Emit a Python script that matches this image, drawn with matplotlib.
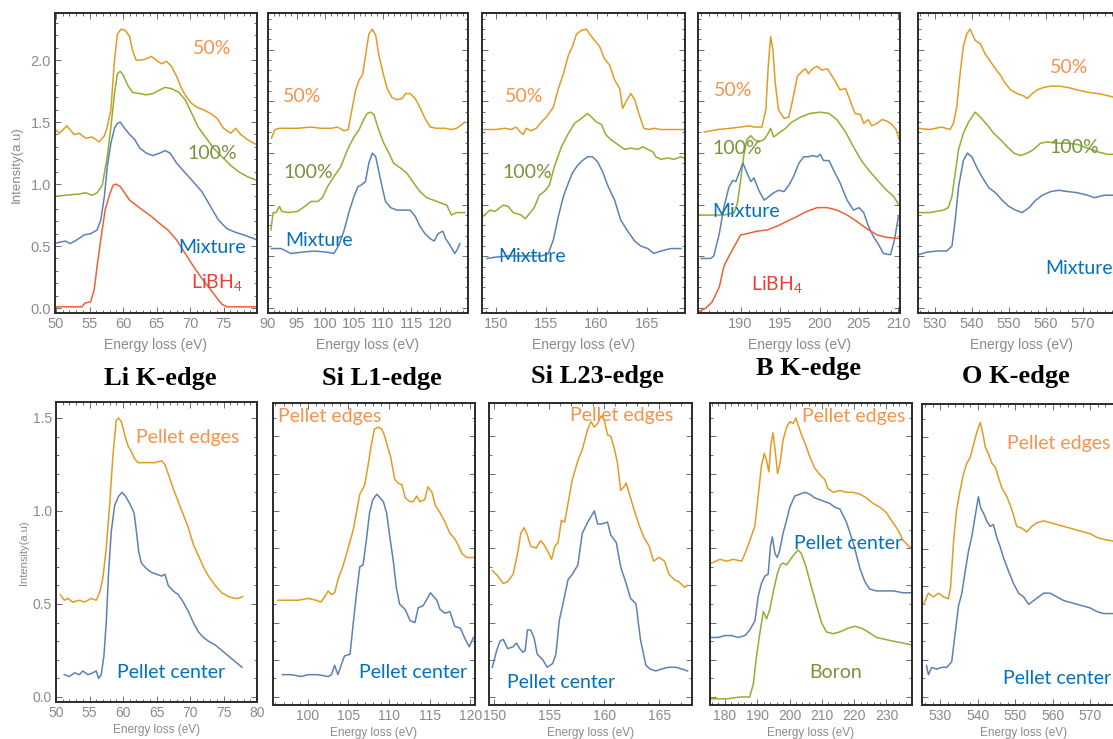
import numpy as np
import matplotlib.pyplot as plt
from matplotlib.ticker import MultipleLocator

plt.rcParams["font.family"] = ["Liberation Sans", "DejaVu Sans"]

# Mathematica default line colours
C_BLUE, C_ORANGE, C_GREEN, C_RED = "#5E81B5", "#E19C24", "#8FB032", "#EB6235"
# text colours of the annotations
T_ORANGE, T_GREEN, T_BLUE, T_RED = "#F7924A", "#77933C", "#0070C0", "#EE3E32"
GRAY = "#8a8a8a"

# ---------------- top row: 50% / 100% / Mixture / LiBH4 ----------------
li_e_50 = [49.89, 50.54, 51.62, 52.69, 53.45, 54.42, 55.39, 56.46, 57.22, 57.65, 58.19, 58.73, 59.16,
           59.70, 60.34, 60.99, 61.42, 61.96, 62.71, 63.47, 64.22, 64.98, 65.73, 66.48, 67.24, 67.99,
           68.75, 69.50, 70.26, 71.01, 71.98, 73.06, 74.03, 75.00, 76.08, 76.83, 77.58, 78.55, 79.52, 79.95]
li_i_50 = [1.44, 1.41, 1.47, 1.40, 1.41, 1.37, 1.38, 1.34, 1.39, 1.46, 1.60, 2.00, 2.21, 2.25, 2.24, 2.19,
           2.08, 2.00, 2.00, 2.01, 2.03, 2.00, 1.97, 1.99, 1.95, 1.87, 1.77, 1.70, 1.65, 1.62, 1.60, 1.57,
           1.53, 1.45, 1.41, 1.45, 1.40, 1.36, 1.33, 1.32]
li_e_100 = [49.85, 51.40, 53.45, 54.42, 55.39, 56.14, 56.90, 57.65, 58.19, 58.73, 59.16, 59.59, 60.02,
            60.67, 61.42, 62.50, 63.47, 64.44, 65.51, 66.27, 67.24, 68.32, 69.29, 70.26, 71.22, 72.30,
            73.49, 74.78, 76.07, 77.26, 78.55, 80.0]
li_i_100 = [0.90, 0.91, 0.92, 0.93, 0.91, 0.93, 0.99, 1.22, 1.46, 1.73, 1.89, 1.91, 1.88, 1.80, 1.74,
            1.73, 1.72, 1.73, 1.76, 1.78, 1.77, 1.74, 1.68, 1.57, 1.46, 1.38, 1.29, 1.22, 1.15, 1.10,
            1.06, 1.03]
li_e_mix = [49.85, 50.43, 51.40, 52.15, 53.12, 54.20, 55.17, 56.14, 56.68, 57.22, 57.65, 58.19, 58.73,
            59.16, 59.59, 60.24, 60.99, 61.74, 62.50, 63.47, 64.44, 65.51, 66.27, 67.02, 67.99, 69.29,
            70.47, 71.76, 73.06, 74.24, 75.53, 76.83, 78.01, 80.0]
li_i_mix = [0.52, 0.53, 0.54, 0.52, 0.55, 0.59, 0.60, 0.63, 0.71, 0.90, 1.14, 1.33, 1.45, 1.49, 1.50,
            1.45, 1.40, 1.36, 1.29, 1.25, 1.23, 1.25, 1.27, 1.25, 1.17, 1.09, 1.02, 0.94, 0.82, 0.71,
            0.64, 0.61, 0.59, 0.55]
li_e_libh4 = [50.11, 53.88, 54.31, 55.17, 55.71, 56.14, 56.68, 57.33, 57.97, 58.51, 58.94, 59.59, 60.24,
              60.99, 61.96, 62.93, 64.22, 65.51, 66.70, 67.99, 69.29, 70.47, 71.76, 73.06, 74.03, 74.78,
              75.53, 80.0]
li_i_libh4 = [0.01, 0.01, 0.04, 0.05, 0.15, 0.34, 0.55, 0.79, 0.91, 0.99, 1.00, 0.98, 0.93, 0.87, 0.83,
              0.79, 0.74, 0.68, 0.63, 0.55, 0.44, 0.34, 0.24, 0.15, 0.08, 0.03, 0.01, 0.01]

si1_e_50 = [90.6, 91.2, 92.0, 93.5, 95.2, 97.5, 99.2, 101.0, 102.1, 103.3, 104.0, 104.4, 105.3, 105.9,
            106.5, 107.0, 107.6, 108.2, 108.8, 109.3, 110.1, 110.8, 111.6, 112.5, 113.4, 114.0, 114.8,
            115.7, 116.5, 117.4, 118.3, 119.4, 120.9, 122.0, 122.9, 123.8, 124.3]
si1_i_50 = [1.37, 1.44, 1.45, 1.45, 1.45, 1.46, 1.45, 1.45, 1.46, 1.43, 1.44, 1.54, 1.76, 1.84, 1.88,
            2.03, 2.21, 2.25, 2.20, 2.05, 1.89, 1.77, 1.70, 1.68, 1.69, 1.73, 1.73, 1.69, 1.62, 1.53,
            1.46, 1.45, 1.45, 1.44, 1.45, 1.48, 1.50]
si1_e_100 = [90.5, 90.9, 91.4, 92.0, 92.4, 93.5, 95.2, 96.4, 97.5, 98.7, 99.5, 100.4, 101.5, 102.7,
             103.9, 105.0, 105.9, 106.7, 107.3, 107.9, 108.5, 109.3, 110.2, 111.1, 111.9, 113.1, 114.2,
             115.4, 116.5, 117.7, 118.9, 120.0, 121.2, 122.0, 122.9, 124.3]
si1_i_100 = [0.63, 0.77, 0.77, 0.82, 0.78, 0.77, 0.78, 0.82, 0.86, 0.86, 0.89, 0.98, 1.06, 1.14, 1.28,
             1.38, 1.44, 1.52, 1.57, 1.58, 1.56, 1.44, 1.33, 1.25, 1.17, 1.13, 1.09, 1.01, 0.94, 0.89,
             0.87, 0.85, 0.83, 0.75, 0.77, 0.77]
si1_e_mix = [90.6, 92.3, 94.0, 95.8, 98.1, 100.4, 101.5, 102.4, 103.3, 104.1, 105.0, 105.7, 106.2,
             107.0, 107.6, 108.2, 108.8, 109.3, 109.9, 110.5, 111.4, 112.5, 113.7, 114.8, 115.7, 116.5,
             117.4, 118.3, 119.0, 119.7, 120.5, 121.0, 121.7, 122.6, 123.0, 123.5]
si1_i_mix = [0.48, 0.48, 0.44, 0.45, 0.46, 0.45, 0.44, 0.51, 0.63, 0.77, 0.90, 0.98, 0.99, 1.02, 1.17,
             1.25, 1.22, 1.11, 0.98, 0.86, 0.81, 0.79, 0.79, 0.79, 0.74, 0.66, 0.60, 0.56, 0.54, 0.60,
             0.62, 0.56, 0.51, 0.44, 0.47, 0.52]

si23_e_50 = [148.7, 149.9, 150.9, 151.5, 152.0, 152.4, 152.7, 153.0, 153.5, 154.0, 154.5, 155.0, 155.7,
             156.2, 156.7, 157.2, 157.6, 158.0, 158.5, 159.0, 159.3, 159.8, 160.3, 160.8, 161.3, 161.8,
             162.3, 162.6, 162.9, 163.4, 163.8, 164.2, 164.7, 165.2, 165.7, 166.4, 167.7, 168.7]
si23_i_50 = [1.44, 1.44, 1.45, 1.44, 1.46, 1.42, 1.40, 1.45, 1.43, 1.45, 1.50, 1.54, 1.62, 1.77, 1.89,
             2.04, 2.11, 2.21, 2.24, 2.25, 2.21, 2.16, 2.11, 2.01, 1.96, 1.84, 1.77, 1.61, 1.66, 1.73,
             1.68, 1.57, 1.45, 1.44, 1.45, 1.44, 1.44, 1.44]
si23_e_100 = [148.7, 149.4, 149.9, 150.7, 151.2, 151.7, 152.5, 152.9, 153.4, 153.8, 154.3, 154.8, 155.3,
              155.8, 156.5, 157.2, 157.8, 158.5, 159.1, 159.5, 160.0, 160.5, 160.9, 161.4, 162.1, 162.8,
              163.4, 164.1, 164.6, 165.1, 165.6, 165.9, 166.4, 167.1, 167.7, 168.4, 168.7]
si23_i_100 = [0.74, 0.79, 0.78, 0.83, 0.82, 0.77, 0.75, 0.72, 0.77, 0.81, 0.91, 0.94, 0.99, 1.14, 1.30,
              1.41, 1.49, 1.53, 1.57, 1.54, 1.50, 1.48, 1.40, 1.36, 1.32, 1.28, 1.29, 1.28, 1.30, 1.28,
              1.26, 1.22, 1.20, 1.21, 1.20, 1.22, 1.21]
si23_e_mix = [149.1, 149.9, 151.2, 152.9, 154.5, 155.2, 155.7, 156.2, 156.7, 157.2, 157.6, 158.1, 158.6,
              159.1, 159.6, 160.1, 160.6, 161.1, 161.8, 162.4, 163.1, 163.8, 164.4, 165.1, 165.7, 166.4,
              167.4, 168.4]
si23_i_mix = [0.40, 0.41, 0.42, 0.42, 0.42, 0.44, 0.55, 0.74, 0.90, 1.01, 1.09, 1.15, 1.19, 1.22, 1.22,
              1.18, 1.10, 0.99, 0.87, 0.71, 0.62, 0.54, 0.50, 0.48, 0.44, 0.46, 0.48, 0.48]

b_e_50 = [185.4, 187.1, 188.7, 190.0, 191.1, 191.7, 192.7, 193.2, 193.5, 193.8, 194.1, 194.4, 194.8,
          195.5, 196.1, 196.5, 197.2, 197.8, 198.2, 198.6, 199.1, 199.7, 200.3, 201.0, 201.4, 202.0,
          202.6, 203.3, 203.9, 204.5, 205.2, 205.6, 206.2, 206.6, 207.3, 207.9, 208.5, 209.2, 209.7, 210.1]
b_i_50 = [1.42, 1.44, 1.45, 1.46, 1.47, 1.46, 1.46, 1.60, 1.95, 2.19, 2.08, 1.81, 1.60, 1.53, 1.54, 1.65,
          1.87, 1.91, 1.93, 1.89, 1.93, 1.95, 1.92, 1.93, 1.89, 1.83, 1.76, 1.77, 1.67, 1.57, 1.56, 1.49,
          1.52, 1.47, 1.49, 1.52, 1.51, 1.48, 1.44, 1.36]
b_e_100 = [184.7, 186.2, 187.9, 189.2, 189.6, 190.0, 190.4, 190.8, 191.3, 191.7, 192.3, 193.0, 193.5,
           193.8, 194.2, 194.8, 195.7, 196.5, 197.6, 198.8, 200.1, 201.2, 202.2, 203.3, 204.3, 205.4,
           206.4, 207.5, 208.5, 209.4, 210.2]
b_i_100 = [0.75, 0.75, 0.75, 0.77, 0.85, 1.03, 1.23, 1.36, 1.39, 1.36, 1.34, 1.36, 1.41, 1.45, 1.38,
           1.41, 1.45, 1.50, 1.54, 1.57, 1.58, 1.57, 1.52, 1.42, 1.30, 1.18, 1.10, 1.02, 0.95, 0.90, 0.82]
b_e_mix = [185.0, 186.2, 186.6, 187.3, 187.9, 188.5, 189.0, 189.4, 189.8, 190.3, 190.8, 191.3, 191.7,
           192.3, 193.0, 193.6, 194.2, 194.8, 195.5, 196.1, 196.7, 197.4, 198.0, 198.6, 199.1, 199.7,
           200.1, 200.5, 201.2, 201.8, 202.6, 203.5, 204.3, 205.0, 205.6, 206.2, 206.8, 207.5, 208.1,
           209.0, 209.5, 210.0]
b_i_mix = [0.40, 0.40, 0.42, 0.60, 0.82, 0.97, 1.03, 1.02, 1.09, 1.17, 1.09, 1.02, 1.05, 0.95, 0.87, 0.90,
           0.93, 0.95, 0.94, 0.99, 1.06, 1.17, 1.22, 1.22, 1.23, 1.22, 1.24, 1.19, 1.19, 1.11, 1.01, 0.87,
           0.79, 0.81, 0.77, 0.66, 0.58, 0.51, 0.44, 0.43, 0.55, 0.74]
b_e_libh4 = [184.7, 185.6, 186.4, 187.3, 187.9, 188.7, 189.4, 190.0, 190.8, 192.1, 193.4, 194.6, 195.9,
             197.2, 198.4, 199.7, 201.0, 202.2, 203.5, 204.7, 206.0, 207.3, 208.5, 210.2]
b_i_libh4 = [-0.03, 0.00, 0.05, 0.17, 0.34, 0.44, 0.52, 0.59, 0.60, 0.62, 0.63, 0.66, 0.70, 0.74, 0.78,
             0.81, 0.81, 0.79, 0.75, 0.70, 0.64, 0.59, 0.57, 0.56]

o_e_50 = [525.5, 528.6, 531.8, 534.1, 535.0, 535.9, 536.8, 537.7, 538.6, 539.5, 540.9, 542.3, 543.6,
          545.0, 546.4, 547.7, 549.1, 550.5, 552.3, 554.1, 555.0, 556.4, 557.7, 559.5, 561.4, 563.6,
          565.9, 568.6, 571.4, 574.1, 575.9, 578.6]
o_i_50 = [1.45, 1.44, 1.46, 1.44, 1.49, 1.62, 1.89, 2.11, 2.21, 2.25, 2.16, 2.13, 2.05, 1.99, 1.93, 1.88,
          1.81, 1.76, 1.73, 1.71, 1.69, 1.73, 1.76, 1.78, 1.79, 1.79, 1.78, 1.76, 1.74, 1.73, 1.72, 1.70]
o_e_100 = [525.5, 528.6, 532.3, 533.6, 534.6, 535.5, 536.4, 537.7, 539.1, 540.9, 542.3, 544.1, 545.9,
           547.7, 549.6, 551.4, 553.2, 555.0, 556.8, 558.6, 560.5, 563.2, 565.9, 568.6, 571.4, 574.1,
           576.8, 578.6]
o_i_100 = [0.77, 0.77, 0.79, 0.81, 0.90, 1.09, 1.28, 1.41, 1.50, 1.58, 1.54, 1.48, 1.41, 1.36, 1.30, 1.25,
           1.23, 1.25, 1.28, 1.33, 1.34, 1.33, 1.33, 1.32, 1.29, 1.26, 1.24, 1.24]
o_e_mix = [525.5, 527.7, 530.5, 533.2, 534.6, 535.5, 536.4, 537.7, 538.8, 540.0, 541.4, 542.7, 544.6,
           546.4, 548.2, 550.0, 551.8, 553.6, 555.5, 557.3, 559.1, 561.4, 563.6, 565.9, 568.6, 571.4,
           573.2, 575.9, 578.6]
o_i_mix = [0.43, 0.45, 0.46, 0.46, 0.50, 0.71, 0.98, 1.19, 1.25, 1.22, 1.13, 1.06, 0.97, 0.93, 0.87, 0.82,
           0.79, 0.77, 0.81, 0.87, 0.91, 0.94, 0.95, 0.94, 0.93, 0.91, 0.89, 0.91, 0.91]

# ---------------- bottom row: pellet edges / pellet center / boron ----------------
lip_e_edge = [50.65, 51.25, 51.75, 52.5, 53.5, 54.25, 55.25, 56.0, 56.5, 57.0, 57.5, 58.0, 58.5, 59.0,
              59.35, 59.75, 60.25, 60.75, 61.25, 61.75, 62.25, 62.75, 63.75, 64.75, 65.75, 66.25, 66.75,
              67.5, 68.25, 69.0, 69.75, 70.5, 71.25, 72.0, 72.75, 73.75, 74.75, 75.75, 76.75, 77.25, 77.85]
lip_i_edge = [0.55, 0.52, 0.53, 0.51, 0.52, 0.51, 0.53, 0.52, 0.56, 0.64, 0.80, 1.03, 1.30, 1.49, 1.50,
              1.48, 1.41, 1.35, 1.32, 1.28, 1.26, 1.26, 1.26, 1.26, 1.27, 1.25, 1.20, 1.12, 1.05, 0.98,
              0.91, 0.82, 0.76, 0.70, 0.65, 0.60, 0.56, 0.54, 0.53, 0.53, 0.54]
lip_e_center = [51.25, 52.0, 52.75, 53.5, 54.0, 54.75, 55.5, 56.0, 56.35, 56.75, 57.15, 57.5, 57.85,
                58.25, 58.75, 59.35, 59.85, 60.35, 61.0, 61.65, 62.0, 62.35, 62.75, 63.5, 64.25, 65.0,
                65.75, 66.25, 66.75, 67.5, 68.25, 69.0, 69.75, 70.5, 71.25, 72.0, 72.75, 73.75, 74.75,
                75.75, 76.75, 77.75]
lip_i_center = [0.12, 0.11, 0.13, 0.12, 0.14, 0.12, 0.13, 0.14, 0.10, 0.12, 0.22, 0.40, 0.67, 0.89,
                1.03, 1.08, 1.10, 1.08, 1.04, 0.99, 0.89, 0.78, 0.72, 0.69, 0.67, 0.66, 0.65, 0.66, 0.60,
                0.57, 0.55, 0.51, 0.46, 0.40, 0.35, 0.32, 0.30, 0.28, 0.25, 0.22, 0.19, 0.16]

si1p_e_edge = [96.3, 97.5, 98.8, 100.0, 101.0, 101.6, 102.1, 102.5, 102.9, 103.3, 103.7, 104.3, 104.9,
               105.6, 106.4, 107.0, 107.4, 107.8, 108.2, 108.7, 109.1, 109.4, 109.8, 110.2, 110.7, 111.1,
               111.6, 112.0, 112.6, 113.0, 113.4, 113.8, 114.4, 114.8, 115.3, 115.7, 116.3, 116.9, 117.5,
               118.1, 118.6, 119.0, 119.6, 120.0, 120.4]
si1p_i_edge = [0.52, 0.52, 0.52, 0.53, 0.52, 0.51, 0.54, 0.57, 0.55, 0.56, 0.63, 0.70, 0.79, 0.90, 1.09,
               1.14, 1.24, 1.35, 1.44, 1.45, 1.44, 1.41, 1.35, 1.29, 1.17, 1.15, 1.14, 1.07, 1.05, 1.05,
               1.08, 1.05, 1.06, 1.13, 1.10, 1.03, 0.99, 0.94, 0.88, 0.85, 0.81, 0.77, 0.75, 0.75, 0.75]
si1p_e_center = [96.9, 97.9, 99.2, 100.0, 101.2, 102.5, 102.9, 103.3, 103.7, 104.1, 104.5, 105.2, 105.6,
                 106.0, 106.4, 106.8, 107.2, 107.6, 108.0, 108.5, 108.9, 109.3, 109.7, 110.1, 110.5, 110.9,
                 111.3, 112.0, 112.6, 113.2, 113.6, 114.2, 114.6, 115.1, 115.5, 115.9, 116.3, 116.9, 117.5,
                 118.1, 118.8, 119.4, 119.9, 120.4]
si1p_i_center = [0.12, 0.12, 0.11, 0.12, 0.12, 0.11, 0.12, 0.17, 0.12, 0.17, 0.22, 0.23, 0.40, 0.56, 0.70,
                 0.71, 0.84, 0.99, 1.06, 1.09, 1.07, 1.05, 0.99, 0.86, 0.74, 0.59, 0.50, 0.47, 0.41, 0.40,
                 0.48, 0.49, 0.52, 0.56, 0.54, 0.52, 0.47, 0.45, 0.46, 0.38, 0.37, 0.31, 0.27, 0.32]

si23p_e_edge = [149.8, 150.3, 150.8, 151.2, 151.7, 152.1, 152.4, 152.7, 153.0, 153.3, 153.8, 154.2, 154.5,
                154.8, 155.2, 155.5, 155.8, 156.1, 156.4, 156.7, 157.1, 157.6, 158.0, 158.5, 158.8, 159.1,
                159.4, 159.7, 160.0, 160.3, 160.6, 160.9, 161.2, 161.5, 161.8, 162.0, 162.3, 162.7, 163.2,
                163.6, 164.1, 164.5, 165.0, 165.5, 165.9, 166.4, 166.8, 167.3, 167.6]
si23p_i_edge = [0.68, 0.65, 0.61, 0.62, 0.66, 0.77, 0.88, 0.91, 0.87, 0.81, 0.80, 0.84, 0.82, 0.79, 0.74,
                0.81, 0.83, 0.95, 0.94, 1.04, 1.17, 1.27, 1.33, 1.44, 1.48, 1.45, 1.47, 1.51, 1.49, 1.41,
                1.40, 1.34, 1.26, 1.11, 1.13, 1.15, 1.09, 1.01, 0.92, 0.86, 0.81, 0.73, 0.75, 0.73, 0.66,
                0.63, 0.62, 0.59, 0.60]
si23p_e_center = [149.8, 150.2, 150.5, 150.8, 151.2, 151.7, 152.0, 152.3, 152.6, 152.8, 153.0, 153.3,
                  153.6, 153.9, 154.4, 154.8, 155.3, 155.6, 155.9, 156.2, 156.7, 157.1, 157.6, 158.0,
                  158.5, 158.8, 159.1, 159.4, 159.8, 160.3, 160.6, 161.1, 161.5, 162.0, 162.4, 162.9,
                  163.3, 163.8, 164.2, 164.7, 165.2, 165.9, 166.5, 167.1, 167.6]
si23p_i_center = [0.16, 0.25, 0.30, 0.31, 0.26, 0.27, 0.29, 0.26, 0.24, 0.25, 0.36, 0.36, 0.32, 0.23,
                  0.20, 0.16, 0.18, 0.23, 0.41, 0.49, 0.63, 0.66, 0.71, 0.88, 0.94, 0.97, 1.00, 0.93, 0.93,
                  0.94, 0.87, 0.83, 0.70, 0.61, 0.53, 0.50, 0.31, 0.17, 0.15, 0.14, 0.15, 0.16, 0.16, 0.15,
                  0.14]

bp_e_edge = [175.9, 178.5, 180.5, 182.6, 185.2, 186.2, 187.7, 189.3, 190.3, 191.3, 192.2, 192.9, 193.6,
             194.2, 194.9, 195.6, 196.3, 197.0, 198.0, 199.1, 200.1, 201.1, 202.0, 202.7, 203.7, 205.1,
             206.3, 207.8, 209.2, 210.2, 210.9, 211.9, 213.5, 215.6, 217.6, 219.7, 221.8, 223.8, 225.9,
             228.0, 230.0, 231.5, 233.1, 234.1, 235.2, 236.4, 237.7]
bp_i_edge = [0.72, 0.74, 0.73, 0.74, 0.73, 0.77, 0.84, 0.92, 1.08, 1.24, 1.31, 1.27, 1.21, 1.35, 1.42,
             1.32, 1.20, 1.25, 1.38, 1.45, 1.48, 1.47, 1.50, 1.46, 1.41, 1.35, 1.29, 1.23, 1.20, 1.18,
             1.17, 1.12, 1.10, 1.11, 1.10, 1.10, 1.09, 1.07, 1.04, 1.02, 0.99, 0.95, 0.91, 0.88, 0.84,
             0.82, 0.80]
bp_e_center = [175.9, 177.9, 180.0, 182.1, 184.1, 186.2, 187.7, 189.3, 190.3, 191.3, 192.4, 193.4, 194.1,
               194.7, 195.5, 196.2, 197.0, 198.0, 199.1, 200.1, 201.6, 203.2, 204.7, 206.3, 207.8, 209.4,
               210.9, 212.5, 214.0, 215.6, 217.6, 219.7, 221.8, 223.3, 224.8, 226.9, 229.5, 232.1, 235.2,
               237.7]
bp_i_center = [0.32, 0.32, 0.33, 0.33, 0.32, 0.33, 0.36, 0.41, 0.54, 0.61, 0.65, 0.66, 0.81, 0.86, 0.77,
               0.75, 0.79, 0.88, 0.95, 1.02, 1.08, 1.09, 1.10, 1.09, 1.07, 1.06, 1.05, 1.04, 1.02, 1.01,
               0.94, 0.83, 0.69, 0.62, 0.58, 0.57, 0.57, 0.57, 0.56, 0.56]
bp_e_boron = [175.9, 180.5, 184.6, 187.7, 188.8, 189.8, 190.8, 191.9, 192.9, 193.9, 194.9, 196.2, 197.2,
              198.0, 199.1, 200.3, 201.6, 202.7, 203.7, 205.1, 206.8, 208.4, 209.9, 211.4, 213.5, 215.6,
              218.1, 220.2, 222.3, 224.3, 226.9, 229.5, 232.1, 235.2, 237.7]
bp_i_boron = [-0.01, -0.01, 0.00, 0.00, 0.07, 0.22, 0.34, 0.46, 0.42, 0.47, 0.56, 0.66, 0.71, 0.72, 0.71,
              0.74, 0.77, 0.79, 0.77, 0.70, 0.59, 0.49, 0.40, 0.35, 0.34, 0.35, 0.37, 0.38, 0.37, 0.35,
              0.32, 0.31, 0.30, 0.29, 0.28]

op_e_edge = [525.6, 526.9, 528.2, 529.6, 530.9, 532.2, 532.8, 533.6, 534.4, 535.3, 536.2, 537.1, 538.0,
             538.9, 539.8, 540.7, 541.4, 542.0, 542.9, 543.8, 544.7, 545.6, 546.4, 547.8, 549.1, 550.4,
             551.8, 553.1, 554.4, 555.8, 557.6, 559.3, 561.1, 562.9, 564.7, 566.4, 568.2, 570.0, 571.8,
             573.6, 576.1]
op_i_edge = [0.50, 0.56, 0.54, 0.56, 0.54, 0.53, 0.59, 0.84, 1.01, 1.11, 1.20, 1.26, 1.29, 1.36, 1.43,
             1.48, 1.42, 1.35, 1.31, 1.26, 1.24, 1.18, 1.13, 1.08, 1.01, 0.92, 0.91, 0.89, 0.92, 0.94,
             0.95, 0.94, 0.93, 0.92, 0.91, 0.90, 0.89, 0.88, 0.86, 0.85, 0.84]
op_e_center = [526.4, 526.9, 527.8, 529.1, 530.4, 531.8, 533.1, 534.0, 534.9, 535.8, 536.7, 537.6, 538.4,
               539.3, 540.2, 540.8, 541.6, 542.4, 543.3, 544.2, 545.1, 546.0, 546.9, 548.2, 549.6, 550.9,
               552.2, 553.6, 554.9, 556.2, 557.6, 559.3, 561.1, 562.9, 564.7, 566.4, 568.2, 570.0, 571.8,
               573.6, 576.1]
op_i_center = [0.17, 0.12, 0.16, 0.15, 0.16, 0.16, 0.19, 0.34, 0.49, 0.56, 0.68, 0.79, 0.86, 0.97, 1.08,
               1.02, 0.99, 0.95, 0.92, 0.93, 0.86, 0.81, 0.75, 0.68, 0.61, 0.56, 0.54, 0.50, 0.52, 0.54,
               0.56, 0.56, 0.54, 0.52, 0.51, 0.50, 0.49, 0.48, 0.46, 0.45, 0.45]

edge_titles = ["Li K-edge", "Si L1-edge", "Si L23-edge", "B K-edge", "O K-edge"]

W, H = 1113, 739
fig = plt.figure(figsize=(W / 100, H / 100), dpi=100)
fig.patch.set_facecolor("white")


def make_ax(l, r, t, b, xlim, ylim, xmaj, xmin, ymaj, ymin, ylabels=False, top=True):
    ax = fig.add_axes([l / W, 1 - b / H, (r - l) / W, (b - t) / H])
    ax.set_xlim(*xlim)
    ax.set_ylim(*ylim)
    ax.xaxis.set_major_locator(MultipleLocator(xmaj))
    ax.xaxis.set_minor_locator(MultipleLocator(xmin))
    ax.yaxis.set_major_locator(MultipleLocator(ymaj))
    ax.yaxis.set_minor_locator(MultipleLocator(ymin))
    ax.tick_params(which="both", direction="in", top=True, right=True, colors="#555555",
                   labelcolor=GRAY, labelsize=10.5 if top else 10, pad=3, width=0.6)
    ax.tick_params(which="major", length=4)
    ax.tick_params(which="minor", length=2)
    if ylabels:
        ax.yaxis.set_major_formatter(plt.FormatStrFormatter("%.1f"))
    else:
        ax.tick_params(axis="y", labelleft=False)
    for s in ax.spines.values():
        s.set_color("#2b2b2b")
        s.set_linewidth(1.4)
    ax.set_xlabel("Energy loss (eV)", color=GRAY, fontsize=10 if top else 8.5,
                  labelpad=5 if top else 3)
    return ax


def lab(ax, fx, fy, s, c, ha="center"):
    ax.text(fx, fy, s, transform=ax.transAxes, color=c, fontsize=14, family="Lato",
            ha=ha, va="center", clip_on=False)


LW = 1.1
TOP_Y = (-0.04, 2.38)
BOT_Y = (-0.043, 1.58)

# top row
ax = make_ax(55, 257, 13, 313, (49.85, 80.0), TOP_Y, 5, 1, 0.5, 0.1, ylabels=True)
ax.plot(li_e_50, li_i_50, color=C_ORANGE, lw=LW)
ax.plot(li_e_100, li_i_100, color=C_GREEN, lw=LW)
ax.plot(li_e_mix, li_i_mix, color=C_BLUE, lw=LW)
ax.plot(li_e_libh4, li_i_libh4, color=C_RED, lw=LW)
ax.set_xticks([50, 55, 60, 65, 70, 75])
lab(ax, 0.78, 0.883, "50%", T_ORANGE)
lab(ax, 0.78, 0.533, "100%", T_GREEN)
lab(ax, 0.777, 0.217, "Mixture", T_BLUE)
lab(ax, 0.80, 0.10, r"LiBH$_\mathregular{4}$", T_RED)

ax = make_ax(268, 468, 13, 313, (90.3, 124.9), TOP_Y, 5, 1, 0.417, 0.0834)
ax.plot(si1_e_50, si1_i_50, color=C_ORANGE, lw=LW)
ax.plot(si1_e_100, si1_i_100, color=C_GREEN, lw=LW)
ax.plot(si1_e_mix, si1_i_mix, color=C_BLUE, lw=LW)
ax.set_xticks([90, 95, 100, 105, 110, 115, 120])
lab(ax, 0.17, 0.723, "50%", T_ORANGE)
lab(ax, 0.20, 0.467, "100%", T_GREEN)
lab(ax, 0.255, 0.243, "Mixture", T_BLUE)

ax = make_ax(482, 685, 13, 313, (148.6, 168.8), TOP_Y, 5, 1, 0.417, 0.0834)
ax.plot(si23_e_50, si23_i_50, color=C_ORANGE, lw=LW)
ax.plot(si23_e_100, si23_i_100, color=C_GREEN, lw=LW)
ax.plot(si23_e_mix, si23_i_mix, color=C_BLUE, lw=LW)
lab(ax, 0.207, 0.72, "50%", T_ORANGE)
lab(ax, 0.222, 0.467, "100%", T_GREEN)
lab(ax, 0.246, 0.187, "Mixture", T_BLUE)

ax = make_ax(698, 900, 13, 313, (184.6, 210.2), TOP_Y, 5, 1, 0.417, 0.0834)
ax.plot(b_e_50, b_i_50, color=C_ORANGE, lw=LW)
ax.plot(b_e_100, b_i_100, color=C_GREEN, lw=LW)
ax.plot(b_e_mix, b_i_mix, color=C_BLUE, lw=LW)
ax.plot(b_e_libh4, b_i_libh4, color=C_RED, lw=LW)
ax.set_xticks([190, 195, 200, 205, 210])
lab(ax, 0.173, 0.743, "50%", T_ORANGE)
lab(ax, 0.193, 0.55, "100%", T_GREEN)
lab(ax, 0.238, 0.337, "Mixture", T_BLUE)
lab(ax, 0.391, 0.093, r"LiBH$_\mathregular{4}$", T_RED)

ax = make_ax(918, 1125, 13, 313, (525.4, 581.5), TOP_Y, 10, 2, 0.417, 0.0834)
ax.plot(o_e_50, o_i_50, color=C_ORANGE, lw=LW)
ax.plot(o_e_100, o_i_100, color=C_GREEN, lw=LW)
ax.plot(o_e_mix, o_i_mix, color=C_BLUE, lw=LW)
ax.set_xticks([530, 540, 550, 560, 570])
lab(ax, 0.729, 0.817, "50%", T_ORANGE)
lab(ax, 0.754, 0.553, "100%", T_GREEN)
lab(ax, 0.614, 0.15, "Mixture", T_BLUE, ha="left")

# bottom row
ax = make_ax(56, 257, 402, 702, (50, 80), (-0.027, 1.586), 5, 1, 0.5, 0.1, ylabels=True, top=False)
ax.plot(lip_e_edge, lip_i_edge, color=C_ORANGE, lw=LW)
ax.plot(lip_e_center, lip_i_center, color=C_BLUE, lw=LW)
lab(ax, 0.657, 0.883, "Pellet edges", T_ORANGE)
lab(ax, 0.572, 0.10, "Pellet center", T_BLUE)

ax = make_ax(273, 475, 403, 705, (95.7, 120.6), BOT_Y, 5, 1, 0.2, 0.1, top=False)
ax.plot(si1p_e_edge, si1p_i_edge, color=C_ORANGE, lw=LW)
ax.plot(si1p_e_center, si1p_i_center, color=C_BLUE, lw=LW)
lab(ax, 0.282, 0.954, "Pellet edges", T_ORANGE)
lab(ax, 0.693, 0.109, "Pellet center", T_BLUE)

ax = make_ax(489, 692, 403, 705, (149.5, 168.0), BOT_Y, 5, 1, 0.2, 0.1, top=False)
ax.plot(si23p_e_edge, si23p_i_edge, color=C_ORANGE, lw=LW)
ax.plot(si23p_e_center, si23p_i_center, color=C_BLUE, lw=LW)
lab(ax, 0.655, 0.96, "Pellet edges", T_ORANGE)
lab(ax, 0.355, 0.073, "Pellet center", T_BLUE)

ax = make_ax(710, 912, 403, 705, (175.4, 237.9), BOT_Y, 10, 2, 0.2, 0.1, top=False)
ax.plot(bp_e_edge, bp_i_edge, color=C_ORANGE, lw=LW)
ax.plot(bp_e_center, bp_i_center, color=C_BLUE, lw=LW)
ax.plot(bp_e_boron, bp_i_boron, color=C_GREEN, lw=LW)
lab(ax, 0.713, 0.954, "Pellet edges", T_ORANGE)
lab(ax, 0.683, 0.536, "Pellet center", T_BLUE)
lab(ax, 0.624, 0.106, "Boron", T_GREEN)

ax = make_ax(922, 1125, 404, 705, (525.2, 579.2), BOT_Y, 10, 2, 0.2, 0.1, top=False)
ax.plot(op_e_edge, op_i_edge, color=C_ORANGE, lw=LW)
ax.plot(op_e_center, op_i_center, color=C_BLUE, lw=LW)
ax.set_xticks([530, 540, 550, 560, 570])
lab(ax, 0.419, 0.868, "Pellet edges", T_ORANGE, ha="left")
lab(ax, 0.399, 0.089, "Pellet center", T_BLUE, ha="left")

# y labels
fig.text(17 / W, 1 - 165 / H, "Intensity(a.u)", rotation=90, color=GRAY, fontsize=9.5,
         ha="center", va="center")
fig.text(24 / W, 1 - 553 / H, "Intensity(a.u)", rotation=90, color=GRAY, fontsize=8,
         ha="center", va="center")

# edge titles between the rows
title_pos = [(160, 378), (382, 378), (597, 376), (808, 369), (1016, 376)]
for s, (px, py) in zip(edge_titles, title_pos):
    fig.text(px / W, 1 - py / H, s, family="Liberation Serif", weight="bold", fontsize=19,
             ha="center", va="center", color="black")

fig.savefig("out.png", dpi=100)
